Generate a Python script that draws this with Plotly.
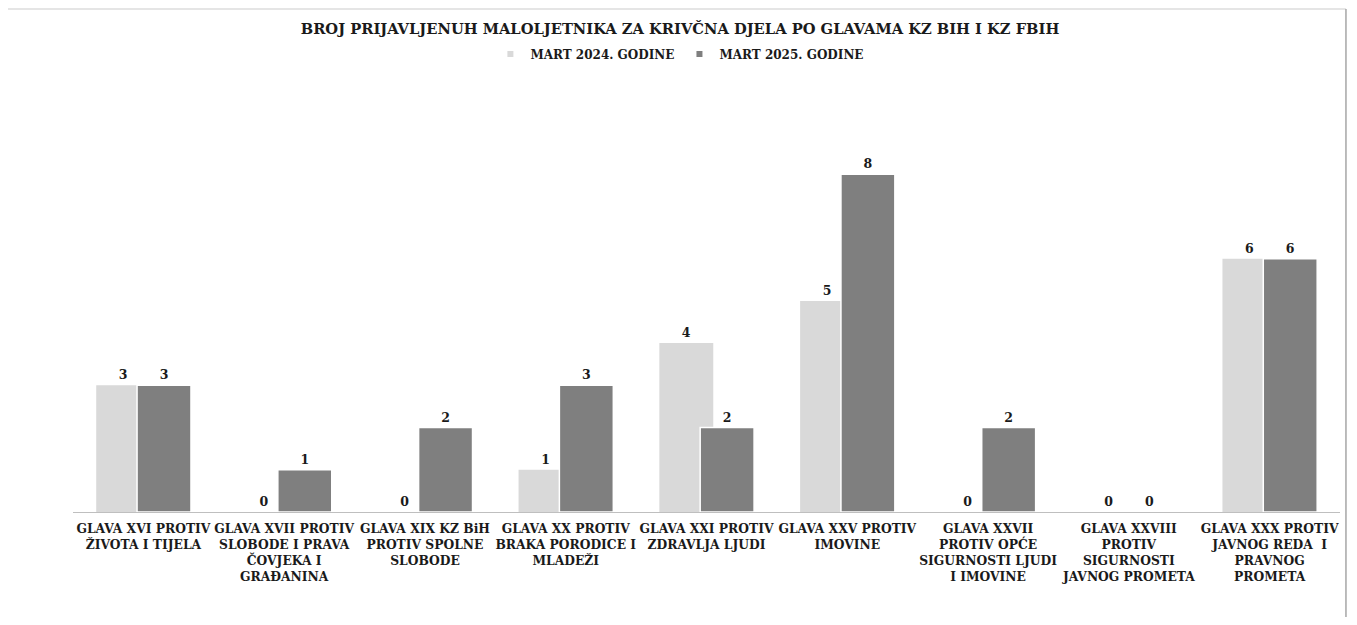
import plotly.graph_objects as go

categories = [
    "GLAVA XVI PROTIV<br>ŽIVOTA I TIJELA",
    "GLAVA XVII PROTIV<br>SLOBODE I PRAVA<br>ČOVJEKA I<br>GRAĐANINA",
    "GLAVA XIX KZ BiH<br>PROTIV SPOLNE<br>SLOBODE",
    "GLAVA XX PROTIV<br>BRAKA PORODICE I<br>MLADEŽI",
    "GLAVA XXI PROTIV<br>ZDRAVLJA LJUDI",
    "GLAVA XXV PROTIV<br>IMOVINE",
    "GLAVA XXVII<br>PROTIV OPĆE<br>SIGURNOSTI LJUDI<br>I IMOVINE",
    "GLAVA XXVIII<br>PROTIV<br>SIGURNOSTI<br>JAVNOG PROMETA",
    "GLAVA XXX PROTIV<br>JAVNOG REDA  I<br>PRAVNOG<br>PROMETA",
]
mart_2024 = [3, 0, 0, 1, 4, 5, 0, 0, 6]
mart_2025 = [3, 1, 2, 3, 2, 8, 2, 0, 6]
series_names = ["MART 2024. GODINE", "MART 2025. GODINE"]
colors = ["#D9D9D9", "#7F7F7F"]

font_family = "DejaVu Serif"
text_color = "#1a1a1a"
xs = list(range(len(categories)))
bar_w = 0.383

fig = go.Figure()
for vals, name, color, off, lw in [
    (mart_2024, series_names[0], colors[0], -0.335, 0),
    (mart_2025, series_names[1], colors[1], -0.045, 1.5),
]:
    fig.add_trace(go.Bar(
        x=xs, y=vals, name=name, showlegend=False,
        marker=dict(color=color, line=dict(width=lw, color="white")),
        width=bar_w, offset=off,
        text=vals, textposition="outside", cliponaxis=False,
        textfont=dict(family=font_family, size=12.5, color=text_color, weight="bold"),
    ))

# small square legend markers like the original
for name, color in zip(series_names, colors):
    fig.add_trace(go.Scatter(
        x=[None], y=[None], mode="markers", name=name,
        marker=dict(symbol="square", size=6, color=color),
    ))

# chart border (top and right edges)
fig.add_shape(type="line", xref="paper", yref="paper",
              x0=-0.06, x1=1.0047, y0=1.3237, y1=1.3237,
              line=dict(color="#DDDDDD", width=1.5), layer="above")
fig.add_shape(type="line", xref="paper", yref="paper",
              x0=1.0047, x1=1.0047, y0=-0.3, y1=1.3237,
              line=dict(color="#A6A6A6", width=1.5), layer="above")

fig.update_xaxes(
    tickvals=xs, ticktext=categories, range=[-0.5, len(categories) - 0.5],
    showline=True, linecolor="#BFBFBF", linewidth=1, ticks="",
    showgrid=False, zeroline=False, automargin=False, ticklabelstandoff=5,
    tickfont=dict(family=font_family, size=12.3, color=text_color, weight="bold"),
)
fig.update_yaxes(range=[0, 9], visible=False, showgrid=False, zeroline=False)

fig.update_layout(
    width=1349, height=609,
    barmode="overlay",
    plot_bgcolor="white", paper_bgcolor="white",
    margin=dict(l=65, r=17, t=124, b=105, autoexpand=False),
    title=dict(
        text="BROJ PRIJAVLJENUH MALOLJETNIKA ZA KRIVČNA DJELA PO GLAVAMA KZ BIH I KZ FBIH",
        x=(680 - 8) / 1349, xanchor="center", y=1 - 21 / 609, yanchor="middle",
        font=dict(family=font_family, size=14.7, color=text_color, weight="bold"),
    ),
    legend=dict(
        orientation="h", x=0.479, xanchor="center", y=1.205, yanchor="middle",
        font=dict(family=font_family, size=12, color=text_color, weight="bold"),
        itemwidth=30, traceorder="normal",
    ),
    showlegend=True,
)

fig.write_html("out.html")
